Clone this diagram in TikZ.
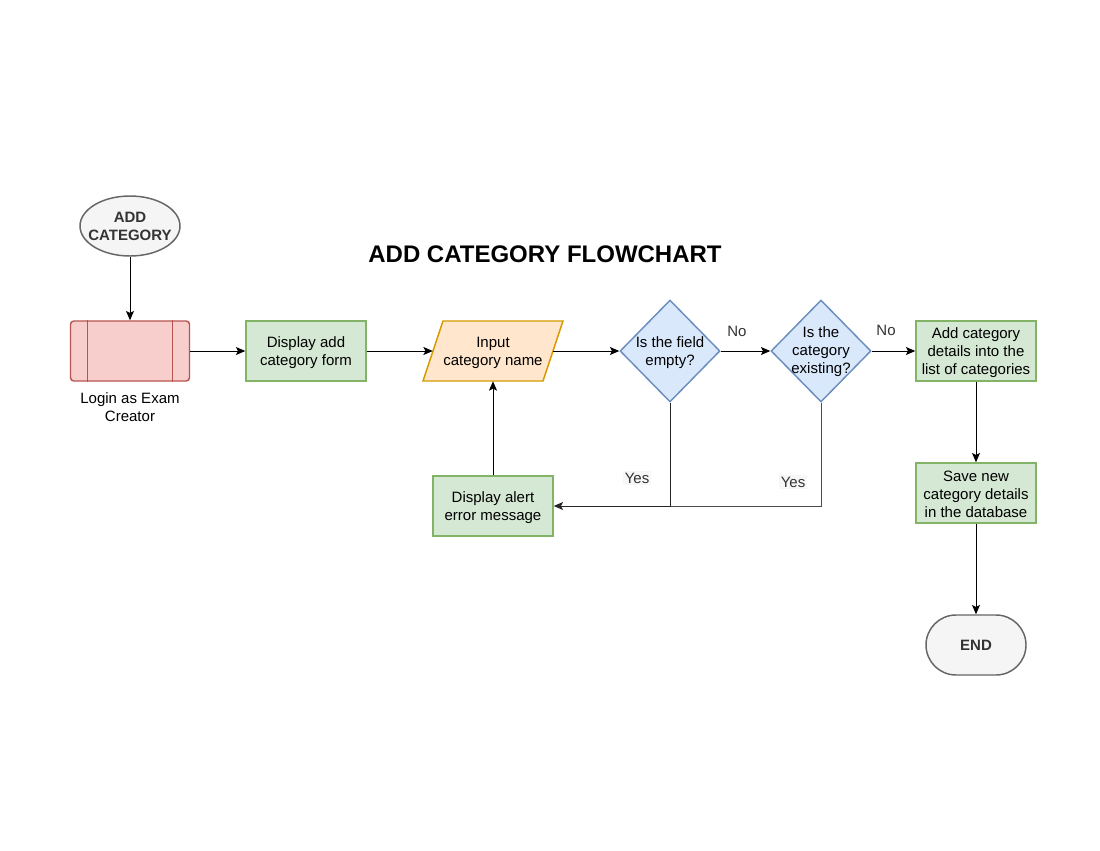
\documentclass[tikz,border=0pt]{standalone}
\usepackage{fontspec}
\setmainfont{Liberation Sans}
\usetikzlibrary{shapes.geometric,arrows.meta}
\definecolor{gfill}{HTML}{D5E8D4}\definecolor{gline}{HTML}{82B366}
\definecolor{bfill}{HTML}{DAE8FC}\definecolor{bline}{HTML}{6C8EBF}
\definecolor{rfill}{HTML}{F8CECC}\definecolor{rline}{HTML}{B85450}
\definecolor{ofill}{HTML}{FFE6CC}\definecolor{oline}{HTML}{D79B00}
\definecolor{kfill}{HTML}{F5F5F5}\definecolor{kline}{HTML}{666666}
\definecolor{ktext}{HTML}{333333}
\begin{document}
\begin{tikzpicture}[x=0.75pt,y=-0.75pt,
  txt/.style={font=\fontsize{11.25pt}{13.5pt}\selectfont, align=center, text=black},
  gbox/.style={draw=gline, fill=gfill, line width=1.1pt, minimum width=90pt, minimum height=45pt, inner sep=0pt},
  dec/.style={diamond, draw=bline, fill=bfill, line width=1.1pt, minimum width=75pt, minimum height=76.5pt, inner sep=0pt},
  term/.style={draw=kline, fill=kfill, line width=1.1pt},
  termtxt/.style={font=\fontsize{11.25pt}{13.5pt}\selectfont\bfseries, align=center, text=ktext},
  tip/.style={-{Stealth[length=7pt,width=6pt,inset=1.5pt]}},
  conn/.style={draw=black, line width=0.75pt, tip},
  yline/.style={draw=black!70, line width=0.75pt},
  lab/.style={font=\fontsize{11.25pt}{13.5pt}\selectfont, text=ktext, inner sep=1pt}]
\useasboundingbox (0,0) rectangle (1100,850);
\fill[white] (0,0) rectangle (1100,850);

% title
\node[font=\fontsize{18pt}{21pt}\selectfont\bfseries] (title) at (545,254) {ADD CATEGORY FLOWCHART};

% start
\node[term, ellipse, minimum width=75pt, minimum height=45pt, inner sep=0pt] (start) at (130,226) {};
\node[termtxt] (starttxt) at (start) {ADD\\CATEGORY};

% login (predefined process)
\node[draw=rline, fill=rfill, line width=1.1pt, rounded corners=2.5pt, minimum width=89.25pt, minimum height=45pt] (login) at (130,351) {};
\draw[rline, line width=1.1pt] ([xshift=-31.9pt]login.north) -- ([xshift=-31.9pt]login.south);
\draw[rline, line width=1.1pt] ([xshift=31.9pt]login.north) -- ([xshift=31.9pt]login.south);
\node[txt] (loginlab) at (130,407) {Login as Exam\\Creator};

% display form
\node[gbox] (form) at (306,351) {};
\node[txt] (formtxt) at (306,352.5) {Display add\\category form};

% input parallelogram
\node[minimum width=90pt, minimum height=45pt, inner sep=0pt] (inp) at (493,351) {};
\path[draw=oline, fill=ofill, line width=1.1pt] (443,321) -- (563,321) -- (543,381) -- (423,381) -- cycle;
\node[txt] (inptext) at (493,352.5) {Input\\category name};

% decisions
\node[dec] (d1) at (670,351) {};
\node[txt] (d1txt) at (670,352.5) {Is the field\\empty?};
\node[dec] (d2) at (821,351) {};
\node[txt] (d2txt) at (821,352) {Is the\\category\\existing?};

% right column
\node[gbox] (add) at (976,351) {};
\node[txt] (addtxt) at (976,352.5) {Add category\\details into the\\list of categories};
\node[gbox] (save) at (976,493) {};
\node[txt] (savetxt) at (976,494.5) {Save new\\category details\\in the database};
\node[term, rounded corners=22.5pt, minimum width=75pt, minimum height=45pt] (end) at (976,645) {};
\node[termtxt] (endtxt) at (end) {END};

% alert
\node[gbox] (alert) at (493,506) {};
\node[txt] (alerttxt) at (493,507.5) {Display alert\\error message};

% connectors
\draw[conn] (start) -- (login);
\draw[conn] (login) -- (form);
\draw[conn] (form) -- (inp.west);
\draw[conn] (inp.east) -- (d1.west);
\draw[conn] (d1.east) -- (d2.west);
\draw[conn] (d2.east) -- (add.west);
\draw[conn] (add) -- (save);
\draw[conn] (save) -- (end);
\draw[conn] (alert) -- (inp.south);
\coordinate (merge) at (d1.south |- alert.east);
\draw[yline] (d2.south) |- (merge);
\draw[yline, tip, draw=black!85] (d1.south) |- (alert.east);

% labels
\node[lab] (no1) at (737,331) {No};
\node[lab] (no2) at (886,330) {No};
\node[lab, fill=black!3] (yes1) at (637,478) {Yes};
\node[lab, fill=black!3] (yes2) at (793,482) {Yes};
\end{tikzpicture}
\end{document}
